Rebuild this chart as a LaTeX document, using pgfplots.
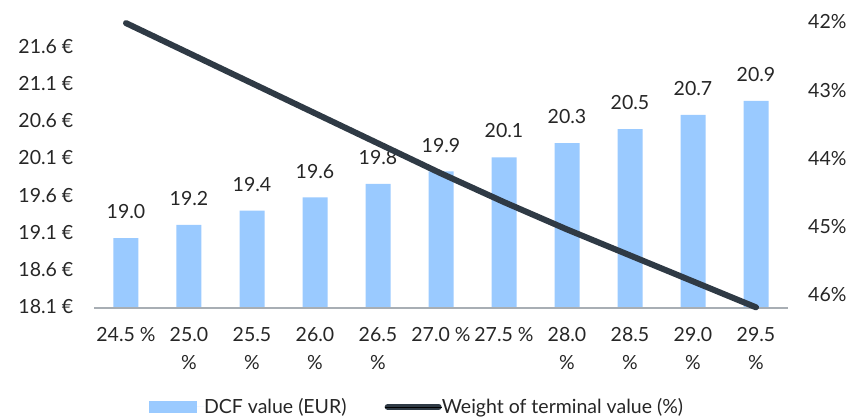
\documentclass[border=0pt]{standalone}
\usepackage{fontspec}
\setmainfont{Lato}
\usepackage{pgfplots}
\pgfplotsset{compat=1.18}
\definecolor{barblue}{HTML}{9ACAFF}
\definecolor{linedark}{HTML}{2F3A45}
\definecolor{axisgray}{HTML}{A8AEB4}
\definecolor{txt}{HTML}{262626}
\newcommand{\lblfont}{\fontsize{19.5}{28}\selectfont}
\begin{document}
\begin{tikzpicture}
\useasboundingbox (-94.5pt,-111pt) rectangle (754.5pt,308pt);
\begin{axis}[
  /pgf/number format/assume math mode=true,
  scale only axis, width=693pt, height=297pt,
  xmin=-0.5, xmax=10.5, ymin=18.1, ymax=22.1,
  clip=false,
  axis line style={draw=none},
  major tick length=0pt,
  xtick={0,...,10},
  xticklabels={{24.5 \%},{25.0\\\%},{25.5\\\%},{26.0\\\%},{26.5\\\%},{27.0 \%},{27.5 \%},{28.0\\\%},{28.5\\\%},{29.0\\\%},{29.5\\\%}},
  xticklabel style={anchor=north, inner sep=0pt, yshift=-19pt, align=center, font=\lblfont, text=txt},
  ytick={18.1,18.6,19.1,19.6,20.1,20.6,21.1,21.6},
  yticklabel={\pgfmathprintnumber[fixed,fixed zerofill,precision=1]{\tick}~€},
  yticklabel style={anchor=east, inner sep=0pt, xshift=-21pt, yshift=1.5pt, font=\lblfont, text=txt},
  ybar, bar width=25pt,
  nodes near coords={\pgfmathprintnumber[fixed,fixed zerofill,precision=1]{\pgfplotspointmeta}},
  every node near coord/.append style={font=\lblfont, text=txt, anchor=south, inner sep=0pt, yshift=19pt},
  legend columns=2,
  legend style={at={(0.464,-0.333)}, anchor=center, draw=none, fill=none, font=\lblfont, text=txt,
    inner sep=0pt, nodes={inner sep=0pt},
    /tikz/every even column/.append style={column sep=38pt}},
]
\addplot[fill=barblue, draw=none,
  legend image code/.code={\fill[barblue] (0pt,-6pt) rectangle (48pt,6pt); \path (0pt,0pt) -- (55pt,0pt);}]
  coordinates {(0,19.04) (1,19.22) (2,19.41) (3,19.59) (4,19.77) (5,19.94) (6,20.13) (7,20.32) (8,20.51) (9,20.70) (10,20.89)};
\addlegendentry{DCF value (EUR)}
\addlegendimage{legend image code/.code={\draw[linedark, line width=6pt, line cap=round] (3pt,0pt) -- (54pt,0pt); \path (0pt,0pt) -- (57pt,0pt);}}
\addlegendentry{Weight of terminal value (\%)}
\draw[axisgray, line width=2pt] (axis cs:-0.5,18.1) -- (axis cs:10.5,18.1);
\end{axis}
\begin{axis}[
  /pgf/number format/assume math mode=true,
  scale only axis, width=693pt, height=297pt,
  xmin=-0.5, xmax=10.5, ymin=41.843, ymax=46.19,
  y dir=reverse, clip=false,
  axis y line*=right, hide x axis,
  axis line style={draw=none},
  major tick length=0pt,
  ytick={42,43,44,45,46},
  yticklabel={\pgfmathprintnumber{\tick}\%},
  yticklabel style={anchor=west, inner sep=0pt, xshift=20.5pt, font=\lblfont, text=txt},
]
\addplot[linedark, line width=6pt, line cap=round, line join=round, mark=none]
  coordinates {(0,42.02) (1,42.46) (2,42.90) (3,43.34) (4,43.78) (5,44.22) (6,44.64) (7,45.04) (8,45.42) (9,45.80) (10,46.18)};
\end{axis}
\end{tikzpicture}
\end{document}
